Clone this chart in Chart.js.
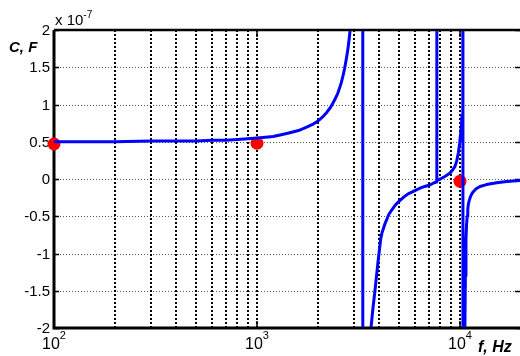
<!DOCTYPE html>
<html>
<head>
<meta charset="utf-8">
<script src="https://cdn.jsdelivr.net/npm/chart.js@4.4.1/dist/chart.umd.min.js"></script>
<style>
  html, body { margin: 0; padding: 0; background: #fff; }
  #wrap { position: relative; width: 520px; height: 356px; overflow: hidden;
          font-family: 'Liberation Sans', Arial, Helvetica, sans-serif; color: #000; }
  #wrap canvas { position: absolute; left: 0; top: 0; }
  .lbl { position: absolute; white-space: nowrap; line-height: 1; }
  .axname { font-weight: bold; font-style: italic; font-size: 15px; }
  .xtick { font-size: 16px; transform: translateX(-50%); }
  .xtick sup { font-size: 11px; vertical-align: baseline; position: relative; top: -10px; }
  .expo { font-size: 15px; }
  .expo sup { font-size: 10px; vertical-align: baseline; position: relative; top: -7px; }
</style>
</head>
<body>
<div id="wrap">
  <canvas id="capChart" width="520" height="356"></canvas>
  <span class="lbl expo" style="left:55px; top:12px;">x 10<sup>-7</sup></span>
  <span class="lbl axname" style="left:9px; top:39px;">C, F</span>
  <span class="lbl axname" style="left:478px; top:339px; font-size:16px;">f, Hz</span>
</div>
<script>
// capacitance vs frequency, values in units of 1e-7 F
const freqHz = [
  100, 200, 300, 400, 500, 600, 700, 800, 900, 1000, 1100, 1200, 1300, 1400, 1500, 1600,
  1700, 1800, 1900, 2000, 2100, 2200, 2300, 2400, 2450, 2500, 2550, 2600, 2650, 2700,
  2750, 2800, 2850, 2900, 2950, 3000, 3100, 3200, 3280, 3310,
  3330, 3380, 3450, 3520, 3580, 3644, 3720, 3811, 3880, 3950, 4010, 4070, 4130, 4200,
  4270, 4350, 4450, 4600, 4740, 4880, 5050, 5300, 5550, 5860, 6100, 6400, 6700, 7110,
  7450, 7660,
  7680,
  7700, 8000, 8500, 8930, 9200, 9450, 9650, 9810, 9950, 10080, 10160, 10230, 10300,
  10330, 10345,
  10355, 10365, 10450, 10560, 10630, 10700, 10770, 10850, 10920, 10990, 11100, 11250,
  11430, 11630, 12000, 12550, 13500, 15160, 17000, 20000
];
const capValues = [
  0.50, 0.50, 0.51, 0.51, 0.51, 0.52, 0.52, 0.53, 0.54, 0.55, 0.56, 0.57, 0.59, 0.61, 0.63, 0.65,
  0.68, 0.71, 0.74, 0.78, 0.83, 0.89, 0.96, 1.05, 1.10, 1.15, 1.22, 1.29, 1.38, 1.48,
  1.60, 1.73, 1.90, 2.1, 2.38, 2.7, 3.9, 7.0, 20, 60,
  -60, -15, -5.6, -3.3, -2.5, -2.0, -1.75, -1.5, -1.3, -1.1, -0.95, -0.80, -0.72, -0.66,
  -0.60, -0.55, -0.48, -0.42, -0.37, -0.33, -0.29, -0.24, -0.20, -0.17, -0.145, -0.12, -0.10, -0.08,
  -0.05, -0.04,
  60,
  -0.02, 0.0, 0.04, 0.08, 0.12, 0.17, 0.25, 0.35, 0.47, 0.62, 0.72, 0.85, 1.5,
  4, 60,
  -60, -20, -4, -2.1, -1.3, -0.8, -0.62, -0.5, -0.41, -0.34, -0.29, -0.24,
  -0.20, -0.17, -0.13, -0.10, -0.075, -0.05, -0.035, -0.02
];

// measured points (red dots)
const markFreqHz = [100, 1000, 10000];
const markValues = [0.47, 0.48, -0.03];

const yTicks = [-2, -1.5, -1, -0.5, 0, 0.5, 1, 1.5, 2];
const xGridHz = [200, 300, 400, 500, 600, 700, 800, 900, 1000,
                 2000, 3000, 4000, 5000, 6000, 7000, 8000, 9000, 10000];
const xTickHz = [100, 1000, 10000];
const xTickExp = ['2', '3', '4'];

const FONT = "'Liberation Sans', Arial, Helvetica, sans-serif";

// grid, ticks and box drawn like a matlab axes (under the data)
const matlabAxes = {
    id: 'matlabAxes',
    beforeDatasetsDraw(chart) {
        const { ctx, chartArea: a, scales: { x, y } } = chart;
        ctx.save();

        ctx.lineWidth = 1;
        ctx.strokeStyle = '#555';
        ctx.setLineDash([1, 2]);
        yTicks.forEach(v => {
            if (v <= y.min || v >= y.max) return;
            const py = Math.round(y.getPixelForValue(v)) + 0.5;
            ctx.beginPath();
            ctx.moveTo(a.left, py);
            ctx.lineTo(a.right, py);
            ctx.stroke();
        });

        ctx.lineWidth = 2;
        ctx.strokeStyle = '#000';
        ctx.setLineDash([2, 2]);
        xGridHz.forEach(v => {
            const px = Math.round(x.getPixelForValue(v));
            ctx.beginPath();
            ctx.moveTo(px, a.top);
            ctx.lineTo(px, a.bottom);
            ctx.stroke();
        });
        ctx.setLineDash([]);

        // inward ticks
        ctx.lineWidth = 1.5;
        yTicks.forEach(v => {
            const py = Math.round(y.getPixelForValue(v)) + 0.5;
            ctx.beginPath();
            ctx.moveTo(a.left, py);
            ctx.lineTo(a.left + 5, py);
            ctx.moveTo(a.right - 5, py);
            ctx.lineTo(a.right, py);
            ctx.stroke();
        });
        xTickHz.forEach(v => {
            const px = Math.round(x.getPixelForValue(v));
            ctx.beginPath();
            ctx.moveTo(px, a.bottom);
            ctx.lineTo(px, a.bottom - 7);
            ctx.moveTo(px, a.top);
            ctx.lineTo(px, a.top + 7);
            ctx.stroke();
        });

        // box
        ctx.lineWidth = 3;
        ctx.beginPath();
        ctx.moveTo(a.left, a.top);
        ctx.lineTo(a.left, a.bottom);
        ctx.lineTo(a.right, a.bottom);
        ctx.stroke();
        ctx.lineWidth = 2.5;
        ctx.beginPath();
        ctx.moveTo(a.left, a.top);
        ctx.lineTo(a.right, a.top);
        ctx.stroke();

        ctx.restore();
    }
};

const chart = new Chart(document.getElementById('capChart'), {
    type: 'scatter',
    data: {
        datasets: [
            {
                label: 'C',
                data: freqHz.map((f, i) => ({ x: f, y: capValues[i] })),
                showLine: true,
                borderColor: '#0000ff',
                borderWidth: 3,
                borderJoinStyle: 'round',
                pointRadius: 0,
                tension: 0,
                clip: { left: 0, top: -1, right: 0, bottom: -1 },
                order: 0
            },
            {
                label: 'measured',
                data: markFreqHz.map((f, i) => ({ x: f, y: markValues[i] })),
                pointRadius: 6.5,
                pointBackgroundColor: '#ff0000',
                pointBorderWidth: 0,
                clip: false,
                order: 1
            }
        ]
    },
    options: {
        responsive: false,
        animation: false,
        devicePixelRatio: 1,
        events: [],
        layout: { autoPadding: false, padding: { top: 30, left: 0, right: 0, bottom: 0 } },
        plugins: {
            legend: { display: false },
            tooltip: { enabled: false }
        },
        scales: {
            x: {
                type: 'logarithmic',
                min: 100,
                max: 19750,
                grid: { display: false },
                border: { display: false },
                ticks: { display: false },
                afterFit(s) { s.height = 28; }
            },
            y: {
                type: 'linear',
                min: -2,
                max: 2,
                grid: { display: false, drawTicks: false },
                border: { display: false },
                afterBuildTicks(s) { s.ticks = yTicks.map(v => ({ value: v })); },
                afterFit(s) { s.width = 54; },
                ticks: {
                    color: '#000',
                    padding: 4,
                    labelOffset: 1,
                    font: { family: FONT, size: 15 },
                    callback: v => String(v)
                }
            }
        }
    },
    plugins: [matlabAxes]
});

// x tick labels as 10^n
const wrap = document.getElementById('wrap');
xTickHz.forEach((v, i) => {
    const span = document.createElement('span');
    span.className = 'lbl xtick';
    span.style.left = chart.scales.x.getPixelForValue(v) + 'px';
    span.style.top = '336px';
    span.innerHTML = '10<sup>' + xTickExp[i] + '</sup>';
    wrap.appendChild(span);
});
</script>
</body>
</html>
